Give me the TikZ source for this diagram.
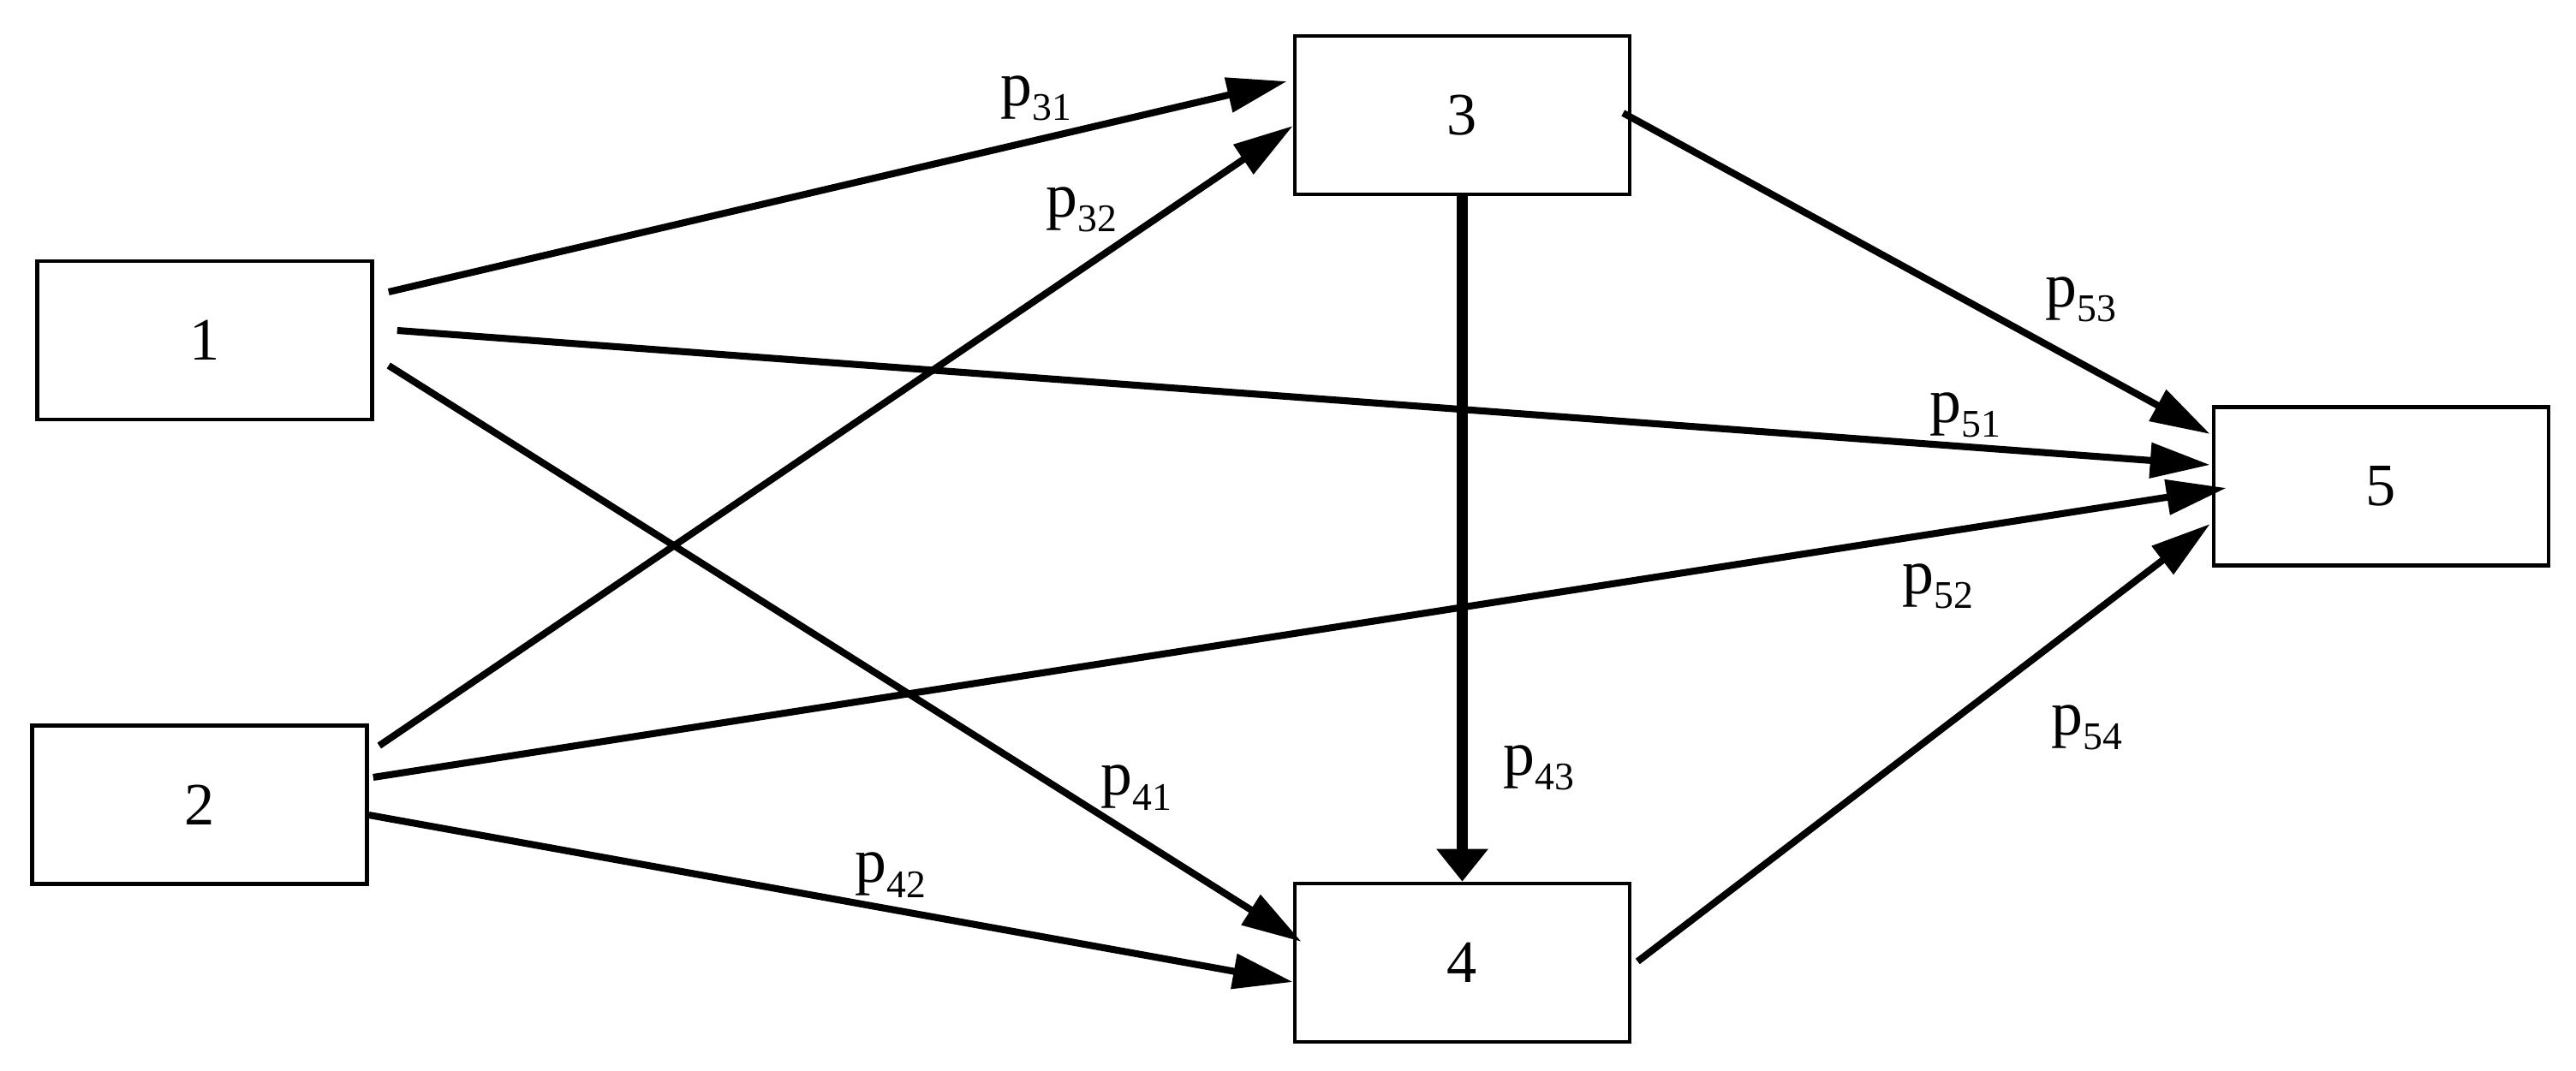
\documentclass[tikz,border=0pt]{standalone}
\usepackage{fontspec}
\setmainfont{Liberation Serif}
\usetikzlibrary{arrows.meta}
\newcommand{\plab}[1]{p\raisebox{-5pt}{\fontsize{13}{14}\selectfont #1}}
\tikzset{
  box/.style={draw, line width=1.3pt, minimum width=3.91cm, minimum height=1.85cm, inner sep=0pt, font=\fontsize{20}{22}\selectfont},
  arr/.style={line width=2.3pt, -{Triangle[length=0.7cm,width=0.4cm]}},
  thickarr/.style={line width=3.7pt, -{Triangle[length=0.38cm,width=0.58cm]}},
  lab/.style={inner sep=0pt, font=\fontsize{21}{23}\selectfont}
}
\begin{document}
\begin{tikzpicture}
\useasboundingbox (0,0) rectangle (30.08,-12.51);
\node[box] (b1) at (2.39,-3.975) {1};
\node[box] (b2) at (2.33,-9.40) {2};
\node[box] (b3) at (17.075,-1.345) {3};
\node[box] (b4) at (17.075,-11.245) {4};
\node[box] (b5) at (27.805,-5.68) {5};

\draw[arr] ([shift={(0.17,0.565)}]b1.east) -- ([shift={(-0.07,0.395)}]b3.west);
\draw[arr] ([shift={(0.27,0.115)}]b1.east) -- ([shift={(-0.02,0.25)}]b5.west);
\draw[arr] ([shift={(0.17,-0.295)}]b1.east) -- ([shift={(0.1,0.245)}]b4.west);
\draw[arr] ([shift={(0.12,0.69)}]b2.east) -- ([shift={(0,-0.125)}]b3.west);
\draw[arr] ([shift={(0.05,0.32)}]b2.east) -- ([shift={(0.17,-0.02)}]b5.west);
\draw[arr] ([shift={(0,-0.12)}]b2.east) -- ([shift={(0,-0.225)}]b4.west);
\draw[arr] ([shift={(-0.1,0.025)}]b3.east) -- ([shift={(-0.02,0.61)}]b5.west);
\draw[arr] ([shift={(0.07,0.015)}]b4.east) -- ([shift={(-0.02,-0.44)}]b5.west);
\draw[thickarr] (b3.south) -- (b4.north);

\node[lab] (l31) at (12.10,-1.15) {\plab{31}};
\node[lab] (l32) at (12.63,-2.45) {\plab{32}};
\node[lab] (l53) at (24.30,-3.50) {\plab{53}};
\node[lab] (l51) at (22.95,-4.85) {\plab{51}};
\node[lab] (l52) at (22.63,-6.85) {\plab{52}};
\node[lab] (l54) at (24.37,-8.50) {\plab{54}};
\node[lab] (l41) at (13.27,-9.20) {\plab{41}};
\node[lab] (l43) at (17.97,-8.97) {\plab{43}};
\node[lab] (l42) at (10.40,-10.22) {\plab{42}};
\end{tikzpicture}
\end{document}
